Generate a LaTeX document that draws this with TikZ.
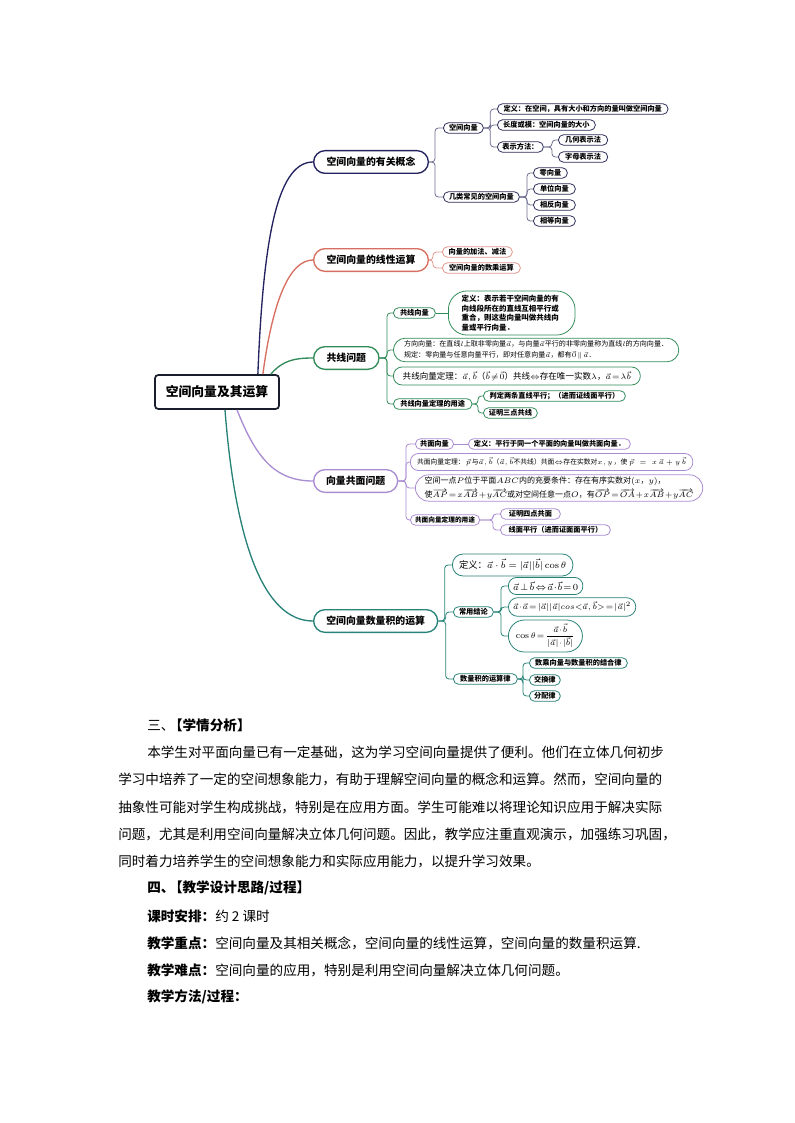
\documentclass[tikz,border=0pt]{standalone}
\usepackage{amsmath,amssymb}
\usepackage{fontspec}
\newfontfamily\cjk{Noto Sans CJK SC}
\usepackage{tikz}
\usepackage{xcolor}
\XeTeXlinebreaklocale "zh"
\XeTeXlinebreakskip=0pt plus 1pt
\definecolor{rootline}{RGB}{25, 30, 45}
\definecolor{navyline}{RGB}{35, 35, 95}
\definecolor{navysub}{RGB}{110, 110, 145}
\definecolor{navyleaf}{RGB}{45, 45, 90}
\definecolor{redline}{RGB}{215, 110, 95}
\definecolor{redleaf}{RGB}{225, 150, 140}
\definecolor{greenline}{RGB}{50, 140, 90}
\definecolor{purpleline}{RGB}{170, 140, 210}
\definecolor{tealline}{RGB}{40, 130, 120}
\tikzset{
  rootbox/.style={draw=rootline, line width=1.3pt, rounded corners=2.5pt, fill=white, minimum width=93pt, minimum height=25.5pt, font=\cjk\bfseries\fontsize{9.6}{11}\selectfont},
  topic/.style={draw=#1, line width=1pt, rounded corners=8.5pt, fill=white, anchor=west, minimum height=17pt, inner xsep=6pt, font=\cjk\bfseries\fontsize{7.4}{9}\selectfont},
  leaf/.style={draw=#1, line width=0.6pt, rounded corners=4pt, fill=white, anchor=west, minimum height=8pt, inner xsep=3.5pt, inner ysep=0.5pt, font=\cjk\bfseries\fontsize{5.4}{6.5}\selectfont},
  tightmath/.style={execute at begin node={\thickmuskip=2mu\medmuskip=1mu}},
  tie/.style={draw=#1, line width=0.6pt, rounded corners=2.5pt},
  stem/.style={draw=#1, line width=1pt},
  bodytext/.style={anchor=west, inner sep=0pt, font=\cjk\fontsize{10.2}{12}\selectfont}
}
\begin{document}
\begin{tikzpicture}[x=0.75pt, y=-0.75pt]
  \useasboundingbox (0,0) rectangle (794,1123);
  \node[rootbox] (root) at (217,392) {空间向量及其运算};

  \node[topic=navyline, minimum width=86pt] (b1) at (313,162) {空间向量的有关概念};
  \node[topic=redline, minimum width=86pt] (b2) at (313,260) {空间向量的线性运算};
  \node[topic=greenline, minimum width=49pt] (b3) at (313,358) {共线问题};
  \node[topic=purpleline, minimum width=63pt] (b4) at (313,481) {向量共面问题};
  \node[topic=tealline, minimum width=93pt] (b5) at (313,621) {空间向量数量积的运算};

  \draw[stem=navyline] ([xshift=-16.5pt]root.north east) .. controls +(5,-125) and +(-38,0) .. (b1.west);
  \draw[stem=redline] ([xshift=-12.75pt]root.north east) .. controls +(10,-75) and +(-23,0) .. (b2.west);
  \draw[stem=greenline] ([xshift=-6.75pt]root.north east) .. controls +(12,-14) and +(-18,0) .. (b3.west);
  \draw[stem=purpleline] ([xshift=15pt]root.south) .. controls +(18,45) and +(-40,0) .. (b4.west);
  \draw[stem=tealline] ([xshift=6pt]root.south) .. controls +(10,130) and +(-50,0) .. (b5.west);

  \node[leaf=navyleaf, minimum width=30pt] (c1) at (443,128) {空间向量};
  \node[leaf=navyleaf, minimum width=57pt] (c2) at (443,197) {几类常见的空间向量};
  \node[leaf=navyleaf, minimum width=128pt] (c11) at (497,109) {定义：在空间，具有大小和方向的量叫做空间向量};
  \node[leaf=navyleaf, minimum width=73.5pt] (c12) at (497,125) {长度或模：空间向量的大小};
  \node[leaf=navyleaf, minimum width=34.5pt] (c13) at (497,147) {表示方法：};
  \node[leaf=navyleaf, minimum width=37pt] (c131) at (558,140) {几何表示法};
  \node[leaf=navyleaf, minimum width=37pt] (c132) at (558,157) {字母表示法};
  \node[leaf=navyleaf, minimum width=25.5pt] (c21) at (533,173) {零向量};
  \node[leaf=navyleaf, minimum width=31.5pt] (c22) at (533,189) {单位向量};
  \node[leaf=navyleaf, minimum width=31.5pt] (c23) at (533,205) {相反向量};
  \node[leaf=navyleaf, minimum width=31.5pt] (c24) at (533,221) {相等向量};
  \draw[tie=navysub] (b1.east) -| ([xshift=-6pt]c1.west) -- (c1.west);
  \draw[tie=navysub] (b1.east) -| ([xshift=-6pt]c2.west) -- (c2.west);
  \foreach \k in {c11,c12,c13}
    \draw[tie=navysub] (c1.east) -| ([xshift=-5pt]\k.west) -- (\k.west);
  \foreach \k in {c131,c132}
    \draw[tie=navysub] (c13.east) -| ([xshift=-4.5pt]\k.west) -- (\k.west);
  \foreach \k in {c21,c22,c23,c24}
    \draw[tie=navysub] (c2.east) -| ([xshift=-4.5pt]\k.west) -- (\k.west);

  \node[leaf=redleaf, minimum width=52.5pt] (l1) at (442,252) {向量的加法、减法};
  \node[leaf=redleaf, minimum width=58.5pt] (l2) at (442,268) {空间向量的数乘运算};
  \foreach \k in {l1,l2}
    \draw[tie=redleaf] (b2.east) -| ([xshift=-6.75pt]\k.west) -- (\k.west);

  \node[leaf=greenline, minimum width=31.5pt] (g1) at (393,313) {共线向量};
  \node[leaf=greenline, text width=75pt, align=left, rounded corners=14pt, inner xsep=10pt, inner ysep=3pt, font=\cjk\bfseries\fontsize{5.6}{7.2}\selectfont] (g1d) at (448,313) {定义：表示若干空间向量的有\\向线段所在的直线互相平行或\\重合，则这些向量叫做共线向\\量或平行向量．};
  \node[leaf=greenline, tightmath, minimum width=214pt, align=left, rounded corners=9pt, inner xsep=8pt, inner ysep=2pt, font=\cjk\fontsize{5.3}{8}\selectfont] (g2) at (393,350) {方向向量：在直线$l$上取非零向量$\vec{a}$，与向量$\vec{a}$平行的非零向量称为直线$l$的方向向量．\\规定：零向量与任意向量平行，即对任意向量$\vec{a}$，都有$\vec{0}\parallel\vec{a}$．};
  \node[leaf=greenline, tightmath, minimum height=13.5pt, rounded corners=6.5pt, inner xsep=7pt, font=\cjk\fontsize{6.4}{8}\selectfont] (g3) at (393,376) {共线向量定理：$\vec{a},\vec{b}$（$\vec{b}\neq\vec{0}$）共线$\Leftrightarrow$存在唯一实数$\lambda$，$\vec{a}=\lambda\vec{b}$};
  \node[leaf=greenline, minimum width=59pt] (g4) at (393,404) {共线向量定理的用途};
  \node[leaf=greenline, minimum width=106.5pt] (g41) at (483,396) {判定两条直线平行；（进而证线面平行）};
  \node[leaf=greenline, minimum width=40.5pt] (g42) at (483,413) {证明三点共线};
  \foreach \k in {g1,g2,g3,g4}
    \draw[tie=greenline] (b3.east) -| ([xshift=-4.5pt]\k.west) -- (\k.west);
  \draw[tie=greenline] (g1.east) -- (g1d.west);
  \foreach \k in {g41,g42}
    \draw[tie=greenline] (g4.east) -| ([xshift=-3.75pt]\k.west) -- (\k.west);

  \node[leaf=purpleline, minimum width=28.5pt] (p1) at (415,444) {共面向量};
  \node[leaf=purpleline, minimum width=121.5pt] (p1d) at (468,444) {定义：平行于同一个平面的向量叫做共面向量．};
  \node[leaf=purpleline, minimum width=201pt, minimum height=12.75pt, rounded corners=6pt, inner xsep=5pt, font=\cjk\fontsize{5.1}{7}\selectfont] (p2) at (410,462) {共面向量定理：\,$\vec{p}$\,与$\vec{a},\vec{b}$（$\vec{a},\vec{b}$不共线）共面$\Leftrightarrow$存在实数对$x,y$\,，使\;$\vec{p}\;=\;x\,\vec{a}+y\,\vec{b}$};
  \node[leaf=purpleline, tightmath, align=left, rounded corners=10pt, inner xsep=7pt, inner ysep=1.5pt, font=\cjk\fontsize{6}{10.5}\selectfont] (p3) at (415,488) {空间一点$P$位于平面$ABC$内的充要条件：存在有序实数对$(x$，$y)$，\\使$\overrightarrow{AP}=x\overrightarrow{AB}+y\overrightarrow{AC}$或对空间任意一点$O$，有$\overrightarrow{OP}=\overrightarrow{OA}+x\overrightarrow{AB}+y\overrightarrow{AC}$};
  \node[leaf=purpleline, minimum width=46.5pt, font=\cjk\bfseries\fontsize{5}{6.5}\selectfont] (p4) at (410,520) {共面向量定理的用途};
  \node[leaf=purpleline, minimum width=45pt] (p41) at (500,514) {证明四点共面};
  \node[leaf=purpleline, minimum width=82.5pt] (p42) at (500,530) {线面平行（进而证面面平行）};
  \draw[tie=purpleline] (b4.east) -| ([xshift=-6.75pt]p1.west) -- (p1.west);
  \draw[tie=purpleline] (b4.east) -| ([xshift=-3pt]p2.west) -- (p2.west);
  \draw[tie=purpleline] (b4.east) -| ([xshift=-6.75pt]p3.west) -- (p3.west);
  \draw[tie=purpleline] (b4.east) -| ([xshift=-3pt]p4.west) -- (p4.west);
  \draw[tie=purpleline] (p1.east) -- (p1d.west);
  \foreach \k in {p41,p42}
    \draw[tie=purpleline] (p4.east) -| ([xshift=-5.25pt]\k.west) -- (\k.west);

  \node[leaf=tealline, minimum width=77pt, minimum height=16.5pt, rounded corners=8pt, inner xsep=5pt, font=\cjk\fontsize{7}{9}\selectfont] (d1) at (452,565) {定义：$\vec{a}\cdot\vec{b}=|\vec{a}||\vec{b}|\cos\theta$};
  \node[leaf=tealline, minimum width=30pt] (d2) at (453,612) {常用结论};
  \node[leaf=tealline, tightmath, minimum width=55.5pt, minimum height=12.75pt, rounded corners=6pt, font=\fontsize{7}{8}\selectfont] (d21) at (508,586) {$\vec{a}\perp\vec{b}\Leftrightarrow\vec{a}\cdot\vec{b}=0$};
  \node[leaf=tealline, tightmath, minimum width=83pt, minimum height=14pt, rounded corners=7pt, font=\fontsize{6}{8}\selectfont] (d22) at (508,607) {$\vec{a}\cdot\vec{a}=|\vec{a}||\vec{a}|cos{<}\vec{a},\vec{b}{>}=|\vec{a}|^{2}$};
  \node[leaf=tealline, tightmath, minimum width=55.5pt, minimum height=24pt, rounded corners=12pt, font=\fontsize{6.5}{8}\selectfont] (d23) at (508,636) {$\cos\theta=\dfrac{\vec{a}\cdot\vec{b}}{|\vec{a}|\cdot|\vec{b}|}$};
  \node[leaf=tealline, minimum width=48pt] (d3) at (453,679) {数量积的运算律};
  \node[leaf=tealline, minimum width=73.5pt] (d31) at (529,663) {数乘向量与数量积的结合律};
  \node[leaf=tealline, minimum width=18pt] (d32) at (529,680) {交换律};
  \node[leaf=tealline, minimum width=18pt] (d33) at (529,696) {分配律};
  \foreach \k in {d1,d2,d3}
    \draw[tie=tealline] (b5.east) -| ([xshift=-5.5pt]\k.west) -- (\k.west);
  \foreach \k in {d21,d22,d23}
    \draw[tie=tealline] (d2.east) -| ([xshift=-5.25pt]\k.west) -- (\k.west);
  \foreach \k in {d31,d32,d33}
    \draw[tie=tealline] (d3.east) -| ([xshift=-4.5pt]\k.west) -- (\k.west);

  \node[bodytext] (h3) at (147,725) {三、\kern-0.4em{\bfseries【学情分析】}};
  \node[bodytext, text width=396.75pt, align=justify] (t1) at (147,752) {\parfillskip=0pt 本学生对平面向量已有一定基础，这为学习空间向量提供了便利。他们在立体几何初步};
  \node[bodytext, text width=418.5pt, align=justify] (t2) at (118,779) {\parfillskip=0pt 学习中培养了一定的空间想象能力，有助于理解空间向量的概念和运算。然而，空间向量的};
  \node[bodytext, text width=418.5pt, align=justify] (t3) at (118,807) {\parfillskip=0pt 抽象性可能对学生构成挑战，特别是在应用方面。学生可能难以将理论知识应用于解决实际};
  \node[bodytext, text width=418.5pt, align=justify] (t4) at (118,834) {\parfillskip=0pt 问题，尤其是利用空间向量解决立体几何问题。因此，教学应注重直观演示，加强练习巩固，};
  \node[bodytext] (t5) at (118,861) {同时着力培养学生的空间想象能力和实际应用能力，以提升学习效果。};
  \node[bodytext] (h4) at (147,888) {\bfseries 四、\kern-0.4em【教学设计思路/过程】};
  \node[bodytext] (k1) at (147,916) {{\bfseries 课时安排：}约 2 课时};
  \node[bodytext] (k2) at (147,943) {{\bfseries 教学重点：}空间向量及其相关概念，空间向量的线性运算，空间向量的数量积运算.};
  \node[bodytext] (k3) at (147,970) {{\bfseries 教学难点：}空间向量的应用，特别是利用空间向量解决立体几何问题。};
  \node[bodytext] (k4) at (147,997) {\bfseries 教学方法/过程：};
\end{tikzpicture}
\end{document}
